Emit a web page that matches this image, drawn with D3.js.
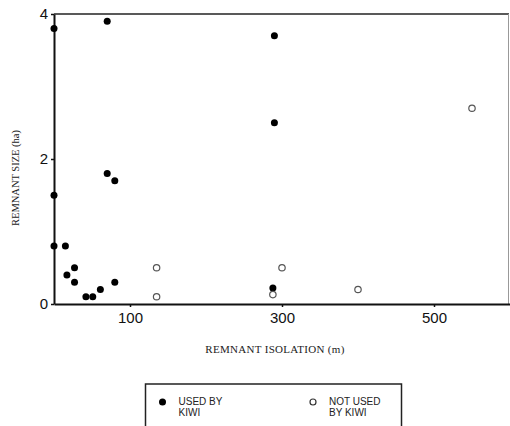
<!DOCTYPE html>
<html>
<head>
<meta charset="utf-8">
<script src="https://cdn.jsdelivr.net/npm/d3@7"></script>
<style>
  body { margin: 0; background: white; }
</style>
</head>
<body>
<div id="canvas"></div>
<script>
"use strict"

/* Data */
let usedX = [0, 70, 70, 80, 0, 0, 15, 17, 27, 27, 42, 51, 61, 80, 290, 290, 288];
let usedY = [3.8, 3.9, 1.8, 1.7, 1.5, 0.8, 0.8, 0.4, 0.5, 0.3, 0.1, 0.1, 0.2, 0.3, 3.7, 2.5, 0.22];
let notUsedX = [135, 135, 550, 300, 288, 400];
let notUsedY = [0.5, 0.1, 2.7, 0.5, 0.13, 0.2];
let xTicks = [100, 300, 500];
let yTicks = [0, 2, 4];
let legendLabels = [["USED BY", "KIWI"], ["NOT USED", "BY KIWI"]];

let drawingWidth = 510;
let drawingHeight = 426;

let drawing = d3.select("#canvas")
    .append("svg")
    .attr("width", drawingWidth)
    .attr("height", drawingHeight);

let x = d3.scaleLinear().domain([0, 600]).range([54, 510]);
let y = d3.scaleLinear().domain([0, 4]).range([304, 14]);

/* top and right frame lines */
drawing.append("line")
    .attr("x1", 54).attr("x2", 509)
    .attr("y1", y(4)).attr("y2", y(4))
    .attr("stroke", "#222")
    .attr("stroke-width", 1.5);

drawing.append("line")
    .attr("x1", 508.5).attr("x2", 508.5)
    .attr("y1", y(4)).attr("y2", y(0))
    .attr("stroke", "#999")
    .attr("stroke-width", 1);

/* axes */
let xAxis = drawing.append("g")
    .attr("transform", "translate(0," + y(0) + ")")
    .call(d3.axisBottom(x).tickValues(xTicks).tickSize(3).tickPadding(5).tickSizeOuter(0));

let yAxis = drawing.append("g")
    .attr("transform", "translate(" + x(0) + ",0)")
    .call(d3.axisLeft(y).tickValues(yTicks).tickFormat(d3.format("d"))
        .tickSize(3).tickPadding(3).tickSizeOuter(0));

[xAxis, yAxis].forEach(function(g) {
    g.select(".domain").attr("stroke", "#111").attr("stroke-width", 2);
    g.selectAll(".tick line").attr("stroke", "#111").attr("stroke-width", 1.5);
    g.selectAll(".tick text")
        .attr("fill", "#111")
        .style("font-family", "'Liberation Sans', Arial, sans-serif")
        .style("font-size", "15px");
});

/* axis titles */
drawing.append("text")
    .attr("x", 275)
    .attr("y", 353)
    .attr("text-anchor", "middle")
    .style("font-family", "'Liberation Serif', 'Times New Roman', serif")
    .style("font-size", "11px")
    .style("letter-spacing", "0.3px")
    .attr("fill", "#222")
    .text("REMNANT ISOLATION (m)");

drawing.append("text")
    .attr("transform", "translate(19,178) rotate(-90)")
    .attr("text-anchor", "middle")
    .style("font-family", "'Liberation Serif', 'Times New Roman', serif")
    .style("font-size", "10.5px")
    .attr("fill", "#222")
    .text("REMNANT SIZE (ha)");

/* points */
drawing.append("g")
    .selectAll("circle")
    .data(d3.zip(usedX, usedY))
    .join("circle")
    .attr("cx", d => x(d[0]))
    .attr("cy", d => y(d[1]))
    .attr("r", 3.5)
    .attr("fill", "#000");

drawing.append("g")
    .selectAll("circle")
    .data(d3.zip(notUsedX, notUsedY))
    .join("circle")
    .attr("cx", d => x(d[0]))
    .attr("cy", d => y(d[1]))
    .attr("r", 3.2)
    .attr("fill", "white")
    .attr("stroke", "#555")
    .attr("stroke-width", 1.2);

/* legend box, runs off the bottom */
drawing.append("rect")
    .attr("x", 145.5)
    .attr("y", 384)
    .attr("width", 256)
    .attr("height", 60)
    .attr("fill", "none")
    .attr("stroke", "#222")
    .attr("stroke-width", 1.5);

let legendX = [162.5, 313];
legendLabels.forEach(function(lines, i) {
    let mark = drawing.append("circle")
        .attr("cx", legendX[i])
        .attr("cy", 402)
        .attr("r", i == 0 ? 3.5 : 3)
        .attr("fill", i == 0 ? "#000" : "white");
    if (i == 1) mark.attr("stroke", "#333").attr("stroke-width", 1.2);

    lines.forEach(function(t, j) {
        drawing.append("text")
            .attr("x", legendX[i] + 16)
            .attr("y", 405 + j * 10.5)
            .style("font-family", "'Liberation Sans', Arial, sans-serif")
            .style("font-size", "10px")
            .attr("fill", "#222")
            .text(t);
    });
});
</script>
</body>
</html>
